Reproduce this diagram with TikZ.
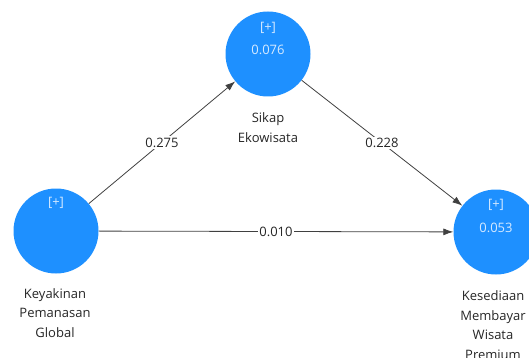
\documentclass[tikz,border=0pt]{standalone}
\usepackage{fontspec}
\setmainfont{Open Sans}
\usetikzlibrary{arrows.meta}
\pgfdeclarelayer{edgelayer}
\pgfdeclarelayer{nodelayer}
\pgfsetlayers{edgelayer,nodelayer,main}
\definecolor{latent}{RGB}{30,144,255}
\definecolor{latenttext}{RGB}{214,234,255}
\tikzstyle{none}=[inner sep=0pt]
\tikzstyle{construct}=[circle,fill=latent,draw=none,minimum size=85pt,inner sep=0pt]
\tikzstyle{inside}=[inner sep=0pt,text=latenttext,font=\fontsize{13}{16}\selectfont]
\tikzstyle{caption}=[inner sep=0pt,align=center,text=black!85,font=\fontsize{13}{19.5}\selectfont]
\tikzstyle{loading}=[-{Latex[length=10pt,width=7pt]},draw=black!75,line width=0.8pt]
\tikzstyle{coefficient}=[fill=white,inner sep=1.5pt,text=black!85,font=\fontsize{13}{16}\selectfont]

\begin{document}
\begin{tikzpicture}[x=1pt,y=-1pt]
	\useasboundingbox (0,0) rectangle (529,358);
	\begin{pgfonlayer}{nodelayer}
		\node [style=construct] (0) at (268, 54) {};
		\node [style=construct] (1) at (56, 231) {};
		\node [style=construct] (2) at (496, 232) {};
		\node [style=inside] (3) at (268, 28) {[+]};
		\node [style=inside] (4) at (268, 50) {0.076};
		\node [style=inside] (5) at (56, 203) {[+]};
		\node [style=inside] (6) at (496, 205) {[+]};
		\node [style=inside] (7) at (496, 228) {0.053};
		\node [style=caption] (8) at (268, 127.5) {Sikap\\Ekowisata};
		\node [style=caption] (9) at (55, 313) {Keyakinan\\Pemanasan\\Global};
		\node [style=caption] (10) at (493, 325) {Kesediaan\\Membayar\\Wisata\\Premium};
	\end{pgfonlayer}
	\begin{pgfonlayer}{edgelayer}
		\draw [style=loading] (1) to node[style=coefficient]{0.275} (0);
		\draw [style=loading] (0) to node[style=coefficient]{0.228} (2);
		\draw [style=loading] (1) to node[style=coefficient]{0.010} (2);
	\end{pgfonlayer}
\end{tikzpicture}
\end{document}
